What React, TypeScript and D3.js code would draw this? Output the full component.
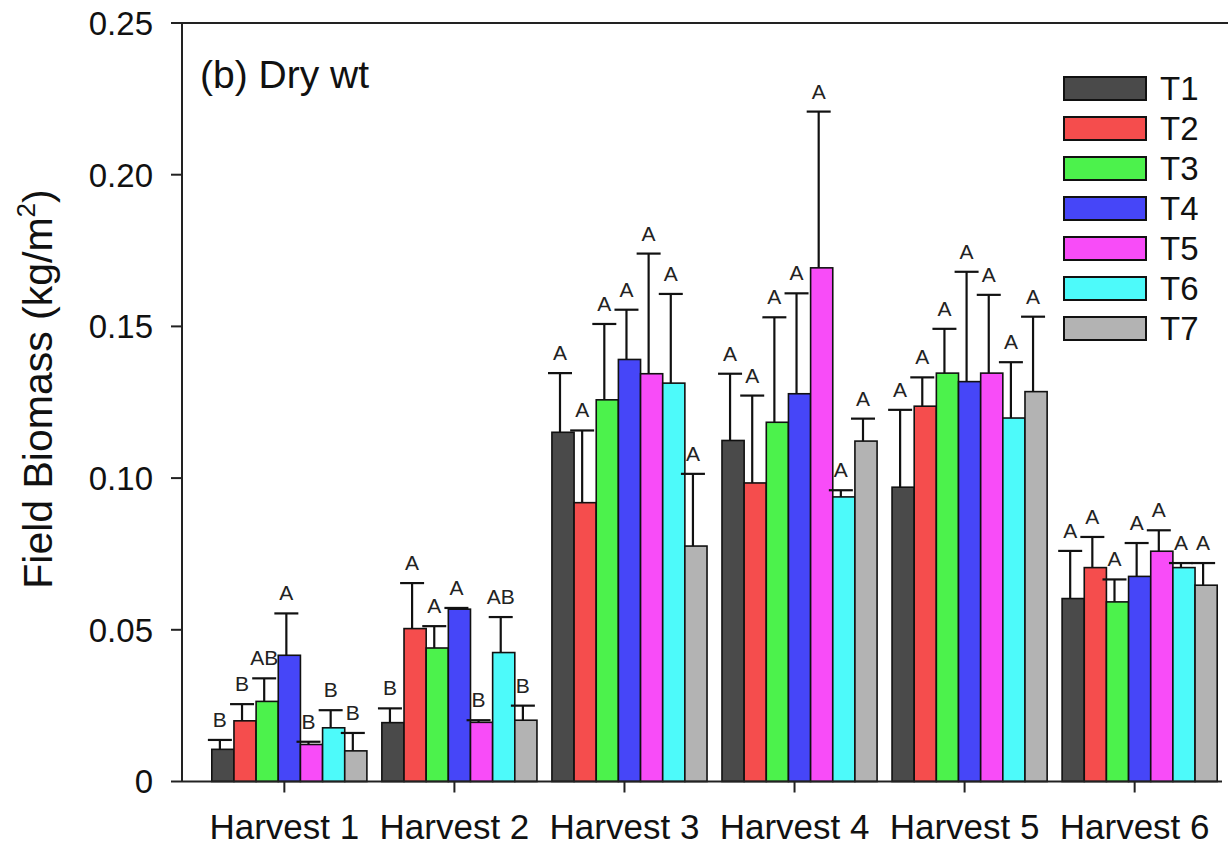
import React, { useEffect, useRef } from "react";
import * as d3 from "d3";

const harvests = ["Harvest 1", "Harvest 2", "Harvest 3", "Harvest 4", "Harvest 5", "Harvest 6"];
const treatments = ["T1", "T2", "T3", "T4", "T5", "T6", "T7"];
const colors = ["#4a4a4a", "#f54d4d", "#4cf24c", "#4646f8", "#f84cf8", "#4dfafa", "#b3b3b3"];
const yTicks = [0, 0.05, 0.1, 0.15, 0.2, 0.25];

// mean dry weight per treatment, one value per harvest
const t1Mean = [0.0106, 0.0194, 0.1151, 0.1124, 0.097, 0.0603];
const t2Mean = [0.02, 0.0504, 0.0919, 0.0984, 0.1237, 0.0705];
const t3Mean = [0.0264, 0.044, 0.1258, 0.1184, 0.1346, 0.0592];
const t4Mean = [0.0416, 0.0568, 0.1391, 0.1278, 0.1318, 0.0676];
const t5Mean = [0.0122, 0.0195, 0.1344, 0.1693, 0.1346, 0.0759];
const t6Mean = [0.0177, 0.0425, 0.1313, 0.0938, 0.1198, 0.0705];
const t7Mean = [0.0101, 0.0202, 0.0776, 0.1122, 0.1285, 0.0647];

// standard errors (upper bars only)
const t1Se = [0.0031, 0.0047, 0.0195, 0.022, 0.0255, 0.0157];
const t2Se = [0.0055, 0.015, 0.0238, 0.0288, 0.0095, 0.0101];
const t3Se = [0.0076, 0.0072, 0.025, 0.0346, 0.0146, 0.0074];
const t4Se = [0.0138, 0.0004, 0.0164, 0.0331, 0.0362, 0.011];
const t5Se = [0.0009, 0.0007, 0.0396, 0.0515, 0.0258, 0.0069];
const t6Se = [0.0058, 0.0117, 0.0294, 0.0022, 0.0184, 0.0015];
const t7Se = [0.0059, 0.0048, 0.0238, 0.0074, 0.0247, 0.0073];

// significance letters
const t1Sig = ["B", "B", "A", "A", "A", "A"];
const t2Sig = ["B", "A", "A", "A", "A", "A"];
const t3Sig = ["AB", "A", "A", "A", "A", "A"];
const t4Sig = ["A", "A", "A", "A", "A", "A"];
const t5Sig = ["B", "B", "A", "A", "A", "A"];
const t6Sig = ["B", "AB", "A", "A", "A", "A"];
const t7Sig = ["B", "B", "A", "A", "A", "A"];

const means = [t1Mean, t2Mean, t3Mean, t4Mean, t5Mean, t6Mean, t7Mean];
const ses = [t1Se, t2Se, t3Se, t4Se, t5Se, t6Se, t7Se];
const sigs = [t1Sig, t2Sig, t3Sig, t4Sig, t5Sig, t6Sig, t7Sig];

const FONT = "'Liberation Sans', Arial, sans-serif";

export default function App() {
  const ref = useRef<SVGSVGElement>(null);

  useEffect(() => {
    const svg = d3.select(ref.current);
    svg.selectAll("*").remove();

    const width = 1228;
    const axisX = 182, top = 23, bottom = 781.5;

    const x0 = d3.scaleBand().domain(harvests).range([205, 1224]).paddingInner(0.088).paddingOuter(0.04);
    const x1 = d3.scaleBand().domain(treatments).range([0, x0.bandwidth()]);
    const y = d3.scaleLinear().domain([0, 0.25]).range([bottom, top]);

    const data = harvests.map((h, hi) => ({
      harvest: h,
      values: treatments.map((t, ti) => ({
        t, color: colors[ti], mean: means[ti][hi], se: ses[ti][hi], sig: sigs[ti][hi]
      }))
    }));

    // frame
    svg.append("line").attr("x1", axisX).attr("x2", width).attr("y1", top).attr("y2", top)
      .attr("stroke", "#222").attr("stroke-width", 2);

    const slice = svg.selectAll(".slice").data(data).enter().append("g")
      .attr("class", "slice")
      .attr("transform", d => "translate(" + x0(d.harvest) + ",0)");

    slice.selectAll("rect").data(d => d.values).enter().append("rect")
      .attr("x", d => x1(d.t)!)
      .attr("width", x1.bandwidth())
      .attr("y", d => y(d.mean))
      .attr("height", d => y(0) - y(d.mean))
      .attr("fill", d => d.color)
      .attr("stroke", "#111").attr("stroke-width", 1.6);

    const errX = (d: any) => x1(d.t)! + x1.bandwidth() / 2 - 3;
    slice.selectAll(".err").data(d => d.values).enter().append("line")
      .attr("class", "err")
      .attr("x1", errX).attr("x2", errX)
      .attr("y1", d => y(d.mean)).attr("y2", d => y(d.mean + d.se))
      .attr("stroke", "#111").attr("stroke-width", 2.2);
    slice.selectAll(".cap").data(d => d.values).enter().append("line")
      .attr("class", "cap")
      .attr("x1", d => errX(d) - 12).attr("x2", d => errX(d) + 12)
      .attr("y1", d => y(d.mean + d.se)).attr("y2", d => y(d.mean + d.se))
      .attr("stroke", "#111").attr("stroke-width", 2.2);
    slice.selectAll(".sig").data(d => d.values).enter().append("text")
      .attr("class", "sig")
      .attr("x", errX)
      .attr("y", d => y(d.mean + d.se) - 13)
      .attr("text-anchor", "middle")
      .attr("font-family", FONT).attr("font-size", 21).attr("fill", "#222")
      .text(d => d.sig);

    // y axis
    svg.append("line").attr("x1", axisX).attr("x2", axisX).attr("y1", top).attr("y2", bottom)
      .attr("stroke", "#222").attr("stroke-width", 2);
    const yt = svg.selectAll(".ytick").data(yTicks).enter().append("g").attr("class", "ytick");
    yt.append("line").attr("x1", 171).attr("x2", axisX).attr("y1", d => y(d)).attr("y2", d => y(d))
      .attr("stroke", "#222").attr("stroke-width", 2);
    yt.append("text").attr("x", 153).attr("y", d => y(d)).attr("dy", "0.36em")
      .attr("text-anchor", "end").attr("font-family", FONT).attr("font-size", 33).attr("fill", "#111")
      .text(d => (d === 0 ? "0" : d3.format(".2f")(d)));

    // x axis
    svg.append("line").attr("x1", axisX).attr("x2", 1222).attr("y1", bottom).attr("y2", bottom)
      .attr("stroke", "#222").attr("stroke-width", 2);
    const xt = svg.selectAll(".xtick").data(harvests).enter().append("g").attr("class", "xtick")
      .attr("transform", d => "translate(" + (x0(d)! + x0.bandwidth() / 2 - 5) + ",0)");
    xt.append("line").attr("y1", bottom).attr("y2", bottom + 11).attr("stroke", "#222").attr("stroke-width", 2);
    xt.append("text").attr("y", 839).attr("text-anchor", "middle")
      .attr("font-family", FONT).attr("font-size", 35).attr("fill", "#111")
      .text(d => d);

    // y label
    const yl = svg.append("text")
      .attr("transform", "translate(52,389) rotate(-90)")
      .attr("text-anchor", "middle")
      .attr("font-family", FONT).attr("font-size", 41).attr("fill", "#111");
    yl.append("tspan").text("Field Biomass (kg/m");
    yl.append("tspan").attr("font-size", 26).attr("dy", -17).text("2");
    yl.append("tspan").attr("dy", 17).text(")");

    // panel title
    svg.append("text").attr("x", 200).attr("y", 88)
      .attr("font-family", FONT).attr("font-size", 39).attr("fill", "#111")
      .text("(b) Dry wt");

    // legend
    const legend = svg.selectAll(".legend").data(treatments).enter().append("g")
      .attr("class", "legend")
      .attr("transform", (d, i) => "translate(1064," + (77 + i * 40) + ")");
    legend.append("rect").attr("width", 82).attr("height", 23)
      .attr("fill", (d, i) => colors[i]).attr("stroke", "#111").attr("stroke-width", 2);
    legend.append("text").attr("x", 96).attr("y", 23)
      .attr("font-family", FONT).attr("font-size", 33).attr("fill", "#111")
      .text(d => d);
  }, []);

  return (
    <svg ref={ref} width={1228} height={847}
      style={{ position: "absolute", left: 0, top: 0, background: "#fff" }} />
  );
}
